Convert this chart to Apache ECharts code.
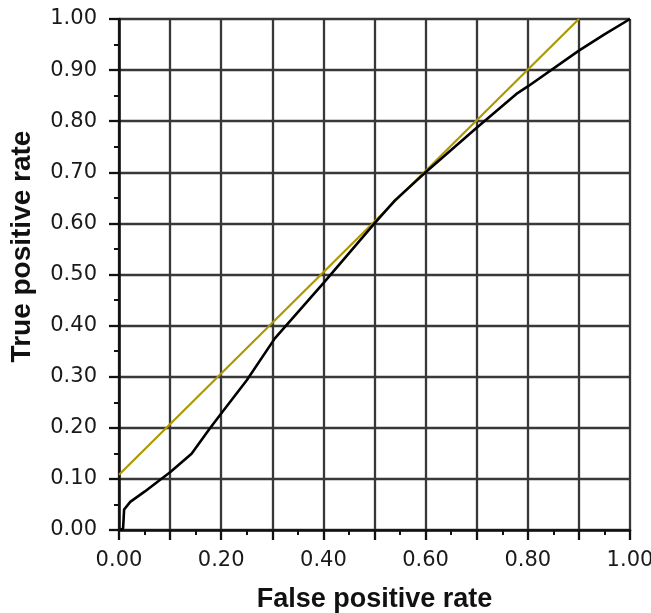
<!DOCTYPE html>
<html>
<head>
<meta charset="utf-8">
<script src="https://cdn.jsdelivr.net/npm/echarts@6/dist/echarts.min.js"></script>
<style>html,body{margin:0;padding:0;background:#fff}#c{width:651px;height:613px}</style>
</head>
<body>
<div id="c"></div>
<script>
const rocFPR = [0.003, 0.008, 0.010, 0.022, 0.05, 0.08, 0.10, 0.142, 0.178, 0.20, 0.25, 0.305, 0.40, 0.50, 0.54, 0.60, 0.70, 0.78, 0.80, 0.90, 0.95, 1.00];
const rocTPR = [0.000, 0.003, 0.040, 0.055, 0.075, 0.098, 0.113, 0.149, 0.199, 0.228, 0.293, 0.375, 0.483, 0.600, 0.645, 0.700, 0.787, 0.855, 0.868, 0.938, 0.970, 1.000];
const refX = [0.0, 0.9];
const refY = [0.108, 1.0];
const xTickLabels = ['0.00', '', '0.20', '', '0.40', '', '0.60', '', '0.80', '', '1.00'];
const yTickLabels = ['0.00', '0.10', '0.20', '0.30', '0.40', '0.50', '0.60', '0.70', '0.80', '0.90', '1.00'];

const chart = echarts.init(document.getElementById('c'), null, {renderer: 'canvas'});
const labelFont = {fontFamily: 'DejaVu Sans', fontSize: 21, color: '#1a1a1a'};
const gridLine = {show: true, lineStyle: {color: '#383838', width: 2.3}};
const axisLine = {show: true, lineStyle: {color: '#111', width: 2.6}};
const tickIdx = v => Math.round(v * 10);
chart.setOption({
  animation: false,
  grid: {left: 119, right: 21, top: 19, bottom: 83, containLabel: false, outerBoundsMode: 'none'},
  xAxis: {
    type: 'value', min: 0, max: 1, interval: 0.1,
    name: 'False positive rate', nameLocation: 'middle', nameGap: 56,
    nameTextStyle: {fontFamily: 'Liberation Sans', fontWeight: 'bold', fontSize: 27, color: '#111'},
    axisLine: axisLine,
    axisTick: {show: true, length: 10, lineStyle: {color: '#111', width: 2.3}},
    minorTick: {show: true, splitNumber: 2, length: 5, lineStyle: {color: '#111', width: 2}},
    splitLine: gridLine,
    axisLabel: Object.assign({margin: 20, formatter: v => xTickLabels[tickIdx(v)] || ''}, labelFont)
  },
  yAxis: {
    type: 'value', min: 0, max: 1, interval: 0.1,
    name: 'True positive rate', nameLocation: 'middle', nameGap: 83,
    nameTextStyle: {fontFamily: 'Liberation Sans', fontWeight: 'bold', fontSize: 28, color: '#111', padding: [0, 0, 0, 56]},
    axisLine: axisLine,
    axisTick: {show: true, length: 10, lineStyle: {color: '#111', width: 2.3}},
    minorTick: {show: true, splitNumber: 2, length: 5, lineStyle: {color: '#111', width: 2}},
    splitLine: gridLine,
    axisLabel: Object.assign({margin: 22, formatter: v => yTickLabels[tickIdx(v)] || ''}, labelFont)
  },
  series: [
    {type: 'line', data: refX.map((x, i) => [x, refY[i]]), symbol: 'none',
     lineStyle: {color: '#ad9800', width: 2.2}, z: 3},
    {type: 'line', data: rocFPR.map((x, i) => [x, rocTPR[i]]), symbol: 'none',
     lineStyle: {color: '#000', width: 2.6}, z: 4}
  ]
});
</script>
</body>
</html>
